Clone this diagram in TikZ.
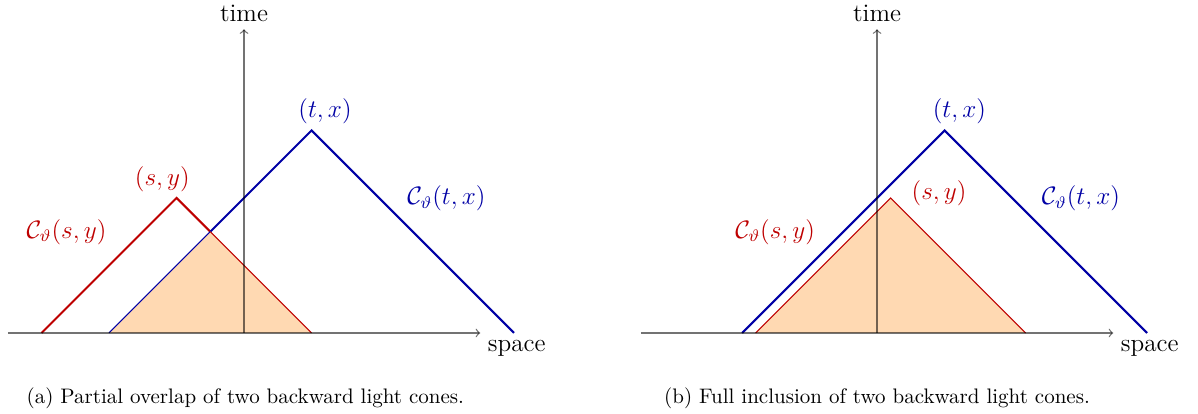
\documentclass[tikz,border=0pt]{standalone}
\usepackage{tikz}
\usepackage{xcolor}

\definecolor{coneblue}{RGB}{0,0,165}
\definecolor{conered}{RGB}{190,0,0}

\begin{document}
\begin{tikzpicture}[x=1.13cm, y=1.13cm,
      axis/.style={->, line width=0.6pt, draw opacity=0.55, font=\large},
      bigcone/.style={line width=1pt, line join=miter},
      rim/.style={line width=0.5pt},
      overlap/.style={fill=orange!30},
      lbl/.style={font=\large},
      captext/.style={font=\normalsize}
    ]
  \useasboundingbox (-3.615,-1.2) rectangle (14.133,4.933);

  % (a) Partial overlap
  \begin{scope}
    \coordinate (o-a) at (0,0);
    \coordinate (xl-a) at (-3.5,0);
    \coordinate (xr-a) at (3.5,0);
    \coordinate (yt-a) at (0,4.5);
    \coordinate (sy-a) at (-1,2);
    \coordinate (tx-a) at (1,3);
    \coordinate (sl-a) at (-3,0);
    \coordinate (sr-a) at (1,0);
    \coordinate (tl-a) at (-2,0);
    \coordinate (tr-a) at (4,0);
    \coordinate (cut-a) at (-0.5,1.5);

    \draw[bigcone, conered] (sl-a) -- (sy-a) -- (cut-a);
    \draw[bigcone, coneblue] (cut-a) -- (tx-a) -- (tr-a);
    % common part
    \fill[overlap] (tl-a) -- (cut-a) -- (sr-a) -- cycle;
    \draw[rim, coneblue] (tl-a) -- (cut-a);
    \draw[rim, conered] (cut-a) -- (sr-a);

    \draw[axis] (xl-a) -- (xr-a) node[below right]{space};
    \draw[axis] (o-a) -- (yt-a) node[above]{time};

    \node[lbl, text=coneblue] (ltx-a) at (1.2,3.28) {$(t,x)$};
    \node[lbl, text=conered] (lsy-a) at (-1.21,2.28) {$(s,y)$};
    \node[lbl, text=conered] (csy-a) at (-2.63,1.5) {$\mathcal{C}_\vartheta(s,y)$};
    \node[lbl, text=coneblue] (ctx-a) at (3.0,2.0) {$\mathcal{C}_\vartheta(t,x)$};

    \node[captext] (cap-a) at (0.02,-0.97) {(a) Partial overlap of two backward light cones.};
  \end{scope}

  % (b) Full inclusion
  \begin{scope}[xshift=9.378*1.13cm]
    \coordinate (o-b) at (0,0);
    \coordinate (xl-b) at (-3.5,0);
    \coordinate (xr-b) at (3.5,0);
    \coordinate (yt-b) at (0,4.5);
    \coordinate (sy-b) at (0.2,2);
    \coordinate (tx-b) at (1,3);
    \coordinate (sl-b) at (-1.8,0);
    \coordinate (sr-b) at (2.2,0);
    \coordinate (tl-b) at (-2,0);
    \coordinate (tr-b) at (4,0);

    \draw[bigcone, coneblue] (tl-b) -- (tx-b) -- (tr-b);
    \fill[overlap] (sl-b) -- (sy-b) -- (sr-b) -- cycle;
    \draw[rim, conered] (sl-b) -- (sy-b) -- (sr-b);

    \draw[axis] (xl-b) -- (xr-b) node[below right]{space};
    \draw[axis] (o-b) -- (yt-b) node[above]{time};

    \node[lbl, text=coneblue] (ltx-b) at (1.22,3.28) {$(t,x)$};
    \node[lbl, text=conered] (lsy-b) at (0.92,2.07) {$(s,y)$};
    \node[lbl, text=conered] (csy-b) at (-1.51,1.5) {$\mathcal{C}_\vartheta(s,y)$};
    \node[lbl, text=coneblue] (ctx-b) at (3.02,2.0) {$\mathcal{C}_\vartheta(t,x)$};

    \node[captext] (cap-b) at (0,-0.97) {(b) Full inclusion of two backward light cones.};
  \end{scope}
\end{tikzpicture}
\end{document}
